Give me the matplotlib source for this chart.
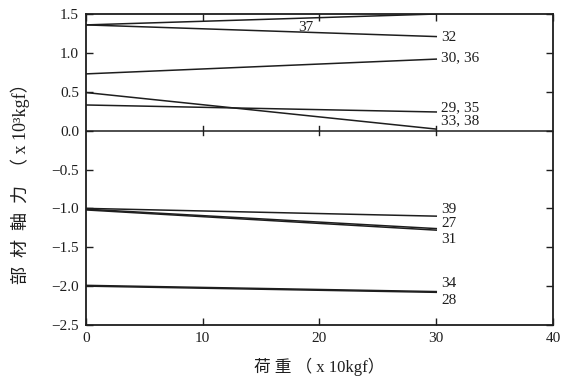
import matplotlib
matplotlib.use("Agg")
import matplotlib.pyplot as plt

# member axial force vs load (x: load x10kgf, y: force x10^3 kgf)
LOAD = [0, 30]
MEMBERS = ["37", "32", "30, 36", "33, 38", "29, 35", "39", "27", "31", "34", "28"]
FORCE_START = [1.36, 1.36, 0.73, 0.49, 0.33, -1.00, -1.01, -1.02, -1.99, -2.00]
FORCE_END = [1.50, 1.21, 0.92, 0.02, 0.24, -1.10, -1.26, -1.28, -2.07, -2.08]

# label text and where it sits (x, y in data units)
LABELS = ["37", "32", "30, 36", "29, 35", "33, 38", "39", "27", "31", "34", "28"]
LABEL_X = [18.2, 30.4, 30.4, 30.4, 30.4, 30.4, 30.4, 30.4, 30.4, 30.4]
LABEL_Y = [1.33, 1.20, 0.94, 0.30, 0.13, -1.01, -1.20, -1.40, -1.96, -2.18]

XTICKS = [0, 10, 20, 30, 40]
YTICKS = [1.5, 1.0, 0.5, 0.0, -0.5, -1.0, -1.5, -2.0, -2.5]

SERIF = ["Liberation Serif", "DejaVu Serif"]
JP = ["Liberation Serif", "Noto Sans CJK JP"]
INK = "#1e1e1e"

fig = plt.figure(figsize=(5.62, 3.79), dpi=100)
ax = fig.add_axes([0.153, 0.1425, 0.831, 0.8205])

for y0, y1 in zip(FORCE_START, FORCE_END):
    ax.plot(LOAD, [y0, y1], color=INK, linewidth=1.1)

ax.axhline(0.0, color=INK, linewidth=1.1)
for xt in XTICKS[1:4]:
    ax.plot([xt, xt], [-0.06, 0.06], color=INK, linewidth=1.0)

for text, lx, ly in zip(LABELS, LABEL_X, LABEL_Y):
    ax.text(lx, ly, text, family=SERIF, fontsize=11, color=INK, va="center", ha="left")

ax.set_xlim(0, 40)
ax.set_ylim(-2.5, 1.5)
ax.set_xticks(XTICKS)
ax.set_yticks(YTICKS)
ax.set_xticklabels([str(v) for v in XTICKS], family=SERIF, fontsize=11, color=INK)
ax.set_yticklabels([f"{v:.1f}".replace("-", "\u2212") for v in YTICKS],
                   family=SERIF, fontsize=11, color=INK)
ax.tick_params(direction="in", length=5, width=1.0, color=INK,
               top=True, right=True, pad=5)
for sp in ax.spines.values():
    sp.set_linewidth(1.3)
    sp.set_color(INK)

ax.set_xlabel("荷 重 （ x 10kgf）", family=JP, fontsize=12, color=INK, labelpad=9)
ax.set_ylabel("部  材  軸  力  （ x 10³kgf）", family=JP, fontsize=13, color=INK)
ax.yaxis.set_label_coords(-0.12, 0.47)

fig.savefig("out.png", dpi=100, facecolor="white")
